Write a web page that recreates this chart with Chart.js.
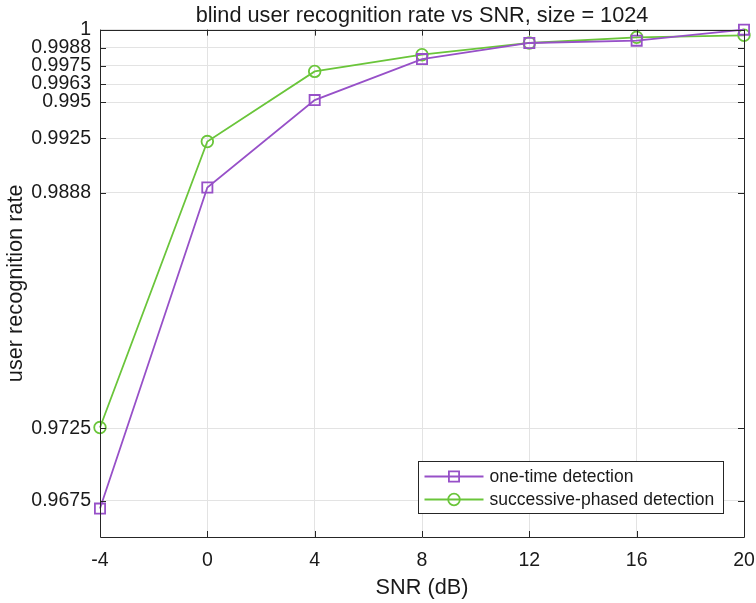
<!DOCTYPE html>
<html>
<head>
<meta charset="utf-8">
<script src="https://cdn.jsdelivr.net/npm/chart.js@4.4.0/dist/chart.umd.min.js"></script>
<style>
  html, body { margin: 0; padding: 0; background: #fff; }
  #wrap { width: 756px; height: 603px; }
</style>
</head>
<body>
<div id="wrap"><canvas id="snr-chart"></canvas></div>
<script>
// SNR sweep (dB)
let snr = [-4, 0, 4, 8, 12, 16, 20];
let oneTime = [0.96696, 0.98911, 0.99514, 0.99797, 0.99908, 0.99924, 1.0];
let successive = [0.97255, 0.99228, 0.99712, 0.99827, 0.99908, 0.99947, 0.99961];
let seriesLabels = ['one-time detection', 'successive-phased detection'];
let colorHex = ['#9750c8', '#6ac53a'];

// odd y ticks as printed on the axis
let yTicks = [0.9675, 0.9725, 0.98875, 0.9925, 0.995, 0.99625, 0.9975, 0.99875, 1];
let yTickLabels = ['0.9675', '0.9725', '0.9888', '0.9925', '0.995', '0.9963', '0.9975', '0.9988', '1'];
let xTicks = [-4, 0, 4, 8, 12, 16, 20];

let fontFamily = '"Liberation Sans", Arial, Helvetica, sans-serif';
let axisColor = '#262626';
let textColor = '#1a1a1a';

// matlab style box + inward ticks + legend
const boxPlugin = {
    id: 'boxPlugin',
    afterDraw(chart) {
        const c = chart.ctx;
        const a = chart.chartArea;
        const xs = chart.scales.x, ys = chart.scales.y;
        const len = 6;
        c.save();
        c.strokeStyle = axisColor;
        c.lineWidth = 1;
        c.beginPath();
        c.rect(Math.round(a.left) + 0.5, Math.round(a.top) + 0.5, Math.round(a.right - a.left), Math.round(a.bottom - a.top));
        xTicks.forEach(v => {
            const px = Math.round(xs.getPixelForValue(v)) + 0.5;
            c.moveTo(px, a.bottom); c.lineTo(px, a.bottom - len);
            c.moveTo(px, a.top); c.lineTo(px, a.top + len);
        });
        yTicks.forEach(v => {
            const py = Math.round(ys.getPixelForValue(v)) + 0.5;
            c.moveTo(a.left, py); c.lineTo(a.left + len, py);
            c.moveTo(a.right, py); c.lineTo(a.right - len, py);
        });
        c.stroke();

        // legend box, lower right
        const bw = 305, bh = 52;
        const bx = Math.round(a.right - 21 - bw) + 0.5;
        const by = Math.round(a.bottom - 24 - bh) + 0.5;
        c.fillStyle = '#fff';
        c.fillRect(bx, by, bw, bh);
        c.strokeStyle = axisColor;
        c.strokeRect(bx, by, bw, bh);
        c.font = '17.5px ' + fontFamily;
        c.textBaseline = 'middle';
        chart.data.datasets.forEach((ds, i) => {
            const ly = by + 15 + i * 23;
            c.strokeStyle = ds.borderColor;
            c.lineWidth = ds.borderWidth;
            c.beginPath();
            c.moveTo(bx + 6, ly); c.lineTo(bx + 65, ly);
            c.stroke();
            c.fillStyle = 'rgba(0,0,0,0)';
            Chart.helpers.drawPoint(c, {
                pointStyle: ds.pointStyle, radius: ds.pointRadius, borderWidth: ds.pointBorderWidth
            }, bx + 35.5, ly);
            c.fillStyle = textColor;
            c.fillText(ds.label, bx + 71, ly + 1);
        });
        c.restore();
    }
};

let ctx = document.getElementById('snr-chart').getContext('2d');
let myChart = new Chart(ctx, {
    type: 'line',
    data: {
        labels: snr,
        datasets: [{
            label: seriesLabels[0],
            data: snr.map((x, i) => ({ x: x, y: oneTime[i] })),
            borderColor: colorHex[0],
            backgroundColor: 'transparent',
            borderWidth: 1.8,
            pointStyle: 'rect',
            pointRadius: 7.2,
            pointBorderWidth: 1.8,
            pointBackgroundColor: 'transparent',
            tension: 0
        }, {
            label: seriesLabels[1],
            data: snr.map((x, i) => ({ x: x, y: successive[i] })),
            borderColor: colorHex[1],
            backgroundColor: 'transparent',
            borderWidth: 1.8,
            pointStyle: 'circle',
            pointRadius: 5.8,
            pointBorderWidth: 1.8,
            pointBackgroundColor: 'transparent',
            tension: 0
        }]
    },
    options: {
        responsive: true,
        maintainAspectRatio: false,
        animation: false,
        clip: false,
        layout: { padding: { top: 0, right: 12, bottom: 0, left: 0 } },
        plugins: {
            legend: { display: false },
            tooltip: { enabled: false },
            title: {
                display: true,
                fullSize: false,
                text: 'blind user recognition rate vs SNR, size = 1024',
                color: textColor,
                font: { family: fontFamily, size: 21.7, weight: 'normal' },
                padding: { top: 3, bottom: 0.6 }
            }
        },
        scales: {
            x: {
                type: 'linear',
                min: -4,
                max: 20,
                afterBuildTicks: (scale) => { scale.ticks = xTicks.map(v => ({ value: v })); },
                afterFit: (scale) => {
                    scale.height = 66;
                    scale.paddingLeft = 0;
                    scale.paddingRight = 0;
                },
                grid: { color: '#e3e3e3', drawTicks: false },
                border: { display: false },
                ticks: {
                    color: textColor,
                    padding: 12,
                    maxRotation: 0,
                    font: { family: fontFamily, size: 19.5 }
                },
                title: {
                    display: true,
                    text: 'SNR (dB)',
                    color: textColor,
                    font: { family: fontFamily, size: 21.7 },
                    padding: { top: 0, bottom: 2 }
                }
            },
            y: {
                type: 'linear',
                min: 0.965,
                max: 1,
                afterBuildTicks: (scale) => { scale.ticks = yTicks.map(v => ({ value: v })); },
                afterFit: (scale) => {
                    scale.width = 100;
                    scale.paddingTop = 0;
                    scale.paddingBottom = 0;
                },
                grid: { color: '#e3e3e3', drawTicks: false },
                border: { display: false },
                ticks: {
                    color: textColor,
                    padding: 9,
                    font: { family: fontFamily, size: 19.5 },
                    callback: (value) => {
                        const i = yTicks.indexOf(value);
                        return i >= 0 ? yTickLabels[i] : '';
                    }
                },
                title: {
                    display: true,
                    text: 'user recognition rate',
                    color: textColor,
                    font: { family: fontFamily, size: 21.7 },
                    padding: { top: 3, bottom: 0 }
                }
            }
        }
    },
    plugins: [boxPlugin]
});
</script>
</body>
</html>
